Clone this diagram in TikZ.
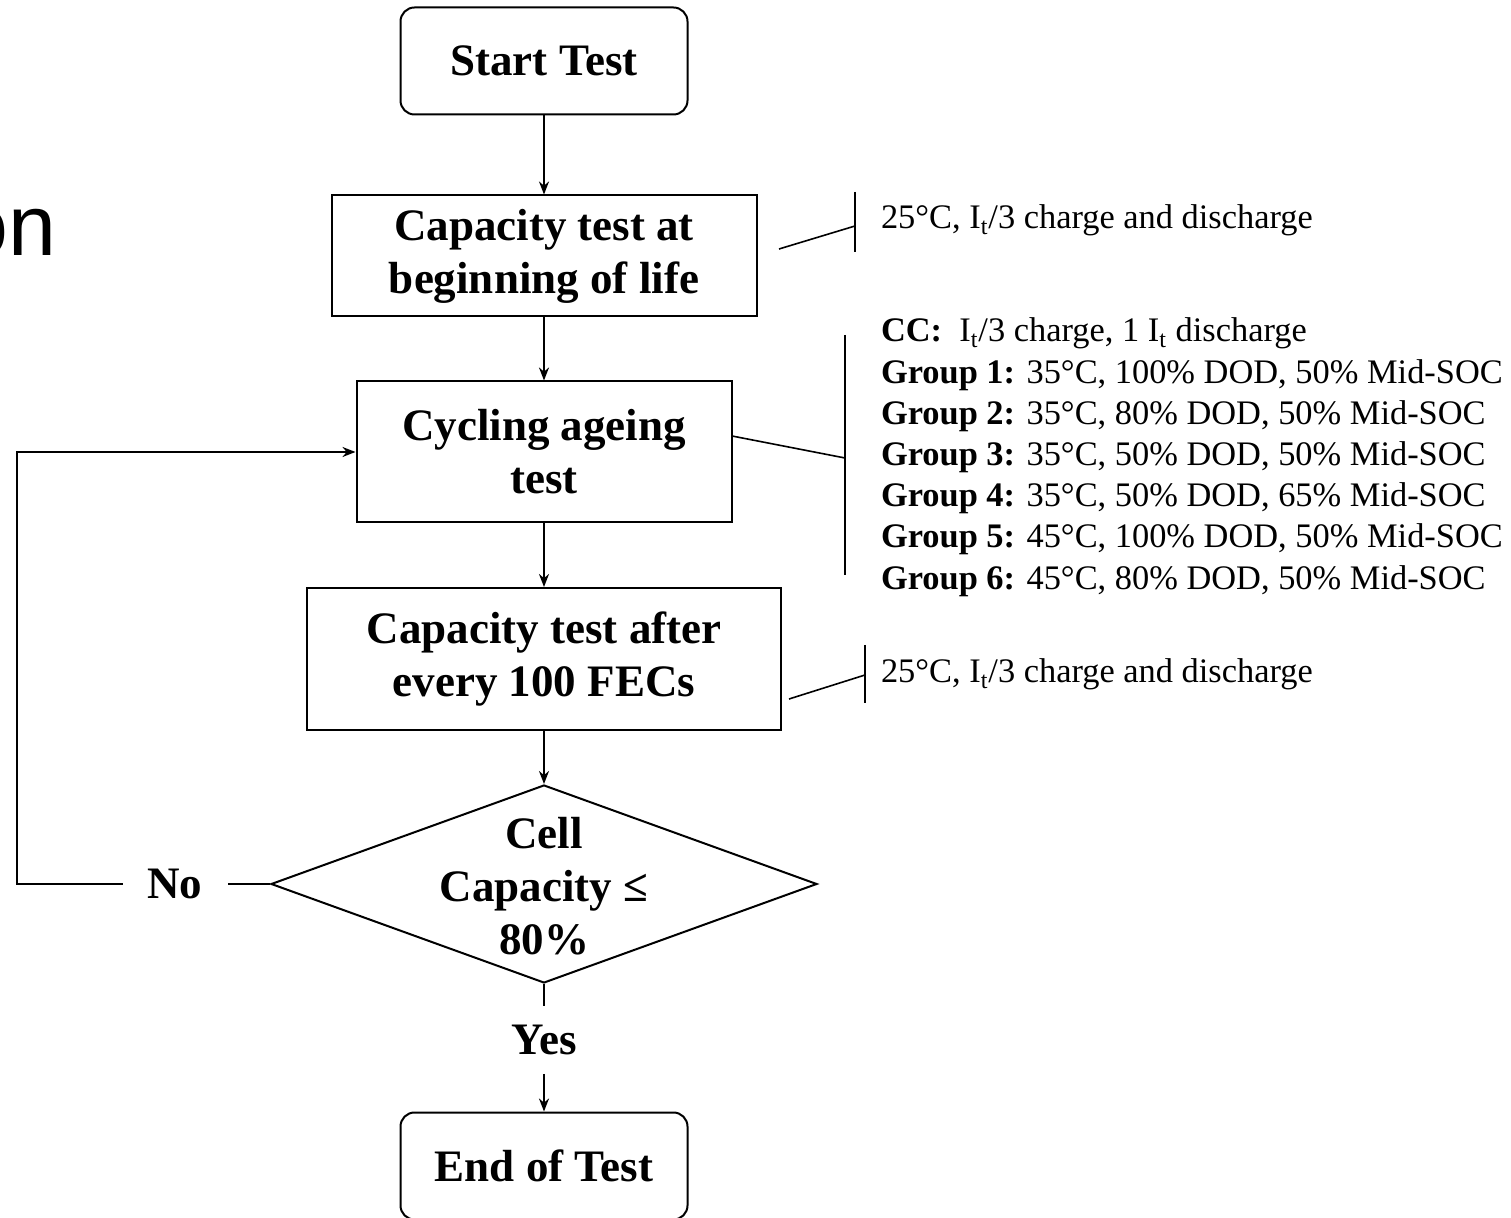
\documentclass[tikz,border=0pt]{standalone}
\usepackage{fontspec}
\setmainfont{Liberation Serif}
\newfontfamily\slidefont{Liberation Sans}
\usetikzlibrary{shapes.geometric,arrows.meta,positioning}

\begin{document}
\begin{tikzpicture}[x=0.5pt,y=-0.5pt,
    line width=1pt,
    >={Stealth[length=6.5pt,width=5pt]},
    boxtext/.style={font=\fontsize{22.5}{26.5}\selectfont\bfseries, align=center},
    terminal/.style={draw, rounded corners=7pt, boxtext, minimum width=143.5pt, minimum height=53.5pt},
    process/.style={draw, boxtext, inner sep=0pt},
    decision/.style={draw, diamond, minimum width=273pt, minimum height=99pt, inner sep=0pt},
    answer/.style={font=\fontsize{22.5}{26.5}\selectfont\bfseries, inner xsep=12pt, inner ysep=9pt},
    note/.style={font=\fontsize{17.2}{20.6}\selectfont, align=left, inner sep=0pt},
    bracket/.style={line width=0.8pt}]
    \useasboundingbox (0,0) rectangle (1511,1218);
    % leftover slide text
    \node[font=\slidefont\fontsize{43}{50}\selectfont, anchor=base east, inner sep=0pt] (slide) at (57,256) {on};
    % main flow
    \node[terminal] (start) at (544,61) {Start Test};
    \node[process, minimum width=212.5pt, minimum height=60.5pt] (bol) at (544,256) {Capacity test at\\beginning of life};
    \node[process, minimum width=187.5pt, minimum height=70.5pt] (cycling) at (544,452) {Cycling ageing\\test};
    \node[process, minimum width=237pt, minimum height=71pt] (check100) at (544,659) {Capacity test after\\every 100 FECs};
    \node[decision, label={[boxtext, yshift=-1pt]center:{Cell\\Capacity ≤\\80\%}}] (eol) at (544,884) {};
    \node[answer] (yes) at (544,1040) {Yes};
    \node[terminal] (finish) at (544,1166) {End of Test};
    \node[answer] (no) at (175,884) {No};
    \coordinate (loopcorner) at (17,452);
    \draw[->] (start) -- (bol);
    \draw[->] (bol) -- (cycling);
    \draw[->] (cycling) -- (check100);
    \draw[->] (check100) -- (eol);
    \draw (eol) -- (yes);
    \draw[->] (yes) -- (finish);
    \draw (eol) -- (no);
    \draw[->] (no) -| (loopcorner) -- (cycling);
    % test conditions
    \node[note, anchor=base west] (bolnote) at (880,229) {25°C, I\textsubscript{t}/3 charge and discharge};
    \node[note, anchor=north west] (cyclenote) at (880,317) {\textbf{CC:}\ \ I\textsubscript{t}/3 charge, 1 I\textsubscript{t} discharge\\
        \textbf{Group 1:} 35°C, 100\% DOD, 50\% Mid-SOC\\
        \textbf{Group 2:} 35°C, 80\% DOD, 50\% Mid-SOC\\
        \textbf{Group 3:} 35°C, 50\% DOD, 50\% Mid-SOC\\
        \textbf{Group 4:} 35°C, 50\% DOD, 65\% Mid-SOC\\
        \textbf{Group 5:} 45°C, 100\% DOD, 50\% Mid-SOC\\
        \textbf{Group 6:} 45°C, 80\% DOD, 50\% Mid-SOC};
    \node[note, anchor=base west] (fecnote) at (880,683) {25°C, I\textsubscript{t}/3 charge and discharge};
    \coordinate (bolbrace) at (855,226);
    \coordinate (cyclebrace) at (845,458);
    \coordinate (fecbrace) at (865,675);
    \draw[bracket] (855,192) -- (855,252);
    \draw[bracket] (779,249) -- (bolbrace);
    \draw[bracket] (845,335) -- (845,575);
    \draw[bracket] (732,436) -- (cyclebrace);
    \draw[bracket] (865,645) -- (865,703);
    \draw[bracket] (789,699) -- (fecbrace);
\end{tikzpicture}
\end{document}
